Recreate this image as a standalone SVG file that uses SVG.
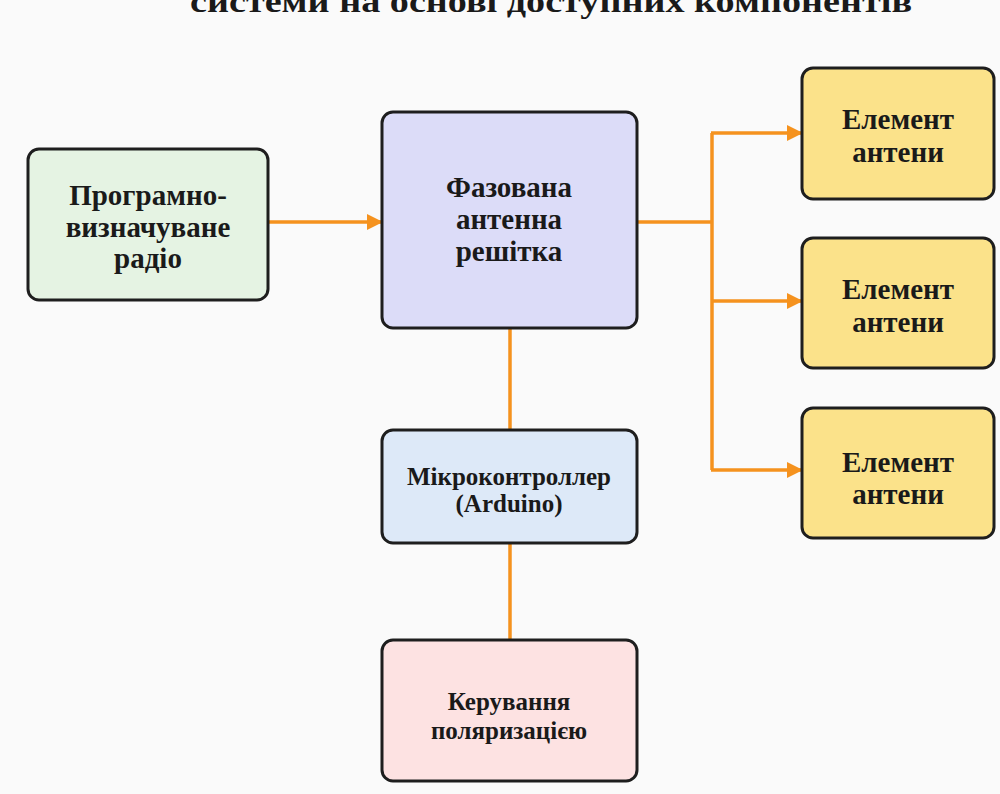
<svg xmlns="http://www.w3.org/2000/svg" width="1000" height="794" viewBox="0 0 1000 794">
  <defs>
    <marker id="arrow" viewBox="0 0 16 16" refX="15" refY="8" markerWidth="16" markerHeight="16" markerUnits="userSpaceOnUse" orient="auto">
      <path d="M0,0 L16,8 L0,16 Z" fill="#f5921e"/>
    </marker>
  </defs>
  <style>
    .box { stroke: #1e1e1e; stroke-width: 3; }
    .lbl { font-family: "Liberation Serif", "Times New Roman", serif; font-weight: bold; fill: #1a1a1a; text-anchor: middle; }
    .big { font-size: 29px; }
    .small { font-size: 25px; }
    .wire { fill: none; stroke: #f5921e; stroke-width: 3.5; }
  </style>

  <rect width="1000" height="794" fill="#fafafa"/>

  <!-- title (top edge cut by the canvas) -->
  <text class="lbl" x="551" y="12" font-size="31" textLength="722" lengthAdjust="spacingAndGlyphs">системи на основі доступних компонентів</text>

  <g id="connectors">
    <line class="wire" x1="268" y1="222" x2="382" y2="222" marker-end="url(#arrow)"/>
    <polyline class="wire" points="637,222 712,222"/>
    <line class="wire" x1="712" y1="133" x2="712" y2="470"/>
    <line class="wire" x1="711" y1="133" x2="802" y2="133" marker-end="url(#arrow)"/>
    <line class="wire" x1="711" y1="301" x2="802" y2="301" marker-end="url(#arrow)"/>
    <line class="wire" x1="711" y1="470" x2="802" y2="470" marker-end="url(#arrow)"/>
    <line class="wire" x1="510" y1="328" x2="510" y2="430"/>
    <line class="wire" x1="510" y1="543" x2="510" y2="640"/>
  </g>

  <g id="sdr">
    <rect class="box" x="28" y="149" width="240" height="151" rx="11" fill="#e5f3e3"/>
    <text class="lbl big" x="148" y="205">Програмно-</text>
    <text class="lbl big" x="148" y="237">визначуване</text>
    <text class="lbl big" x="148" y="268">радіо</text>
  </g>

  <g id="phased-array">
    <rect class="box" x="382" y="112" width="255" height="216" rx="11" fill="#dcdcf8"/>
    <text class="lbl big" x="509" y="197">Фазована</text>
    <text class="lbl big" x="509" y="229">антенна</text>
    <text class="lbl big" x="509" y="261">решітка</text>
  </g>

  <g id="element-1">
    <rect class="box" x="802" y="68" width="192" height="131" rx="11" fill="#fbe28a"/>
    <text class="lbl big" x="898" y="129">Елемент</text>
    <text class="lbl big" x="898" y="162">антени</text>
  </g>

  <g id="element-2">
    <rect class="box" x="802" y="238" width="192" height="130" rx="11" fill="#fbe28a"/>
    <text class="lbl big" x="898" y="299">Елемент</text>
    <text class="lbl big" x="898" y="332">антени</text>
  </g>

  <g id="element-3">
    <rect class="box" x="802" y="408" width="192" height="130" rx="11" fill="#fbe28a"/>
    <text class="lbl big" x="898" y="472">Елемент</text>
    <text class="lbl big" x="898" y="504">антени</text>
  </g>

  <g id="microcontroller">
    <rect class="box" x="382" y="430" width="255" height="113" rx="11" fill="#dde9f8"/>
    <text class="lbl small" x="509" y="485">Мікроконтроллер</text>
    <text class="lbl small" x="509" y="512">(Arduino)</text>
  </g>

  <g id="polarization">
    <rect class="box" x="382" y="640" width="255" height="141" rx="11" fill="#fde2e2"/>
    <text class="lbl small" x="509" y="710">Керування</text>
    <text class="lbl small" x="509" y="739">поляризацією</text>
  </g>
</svg>
